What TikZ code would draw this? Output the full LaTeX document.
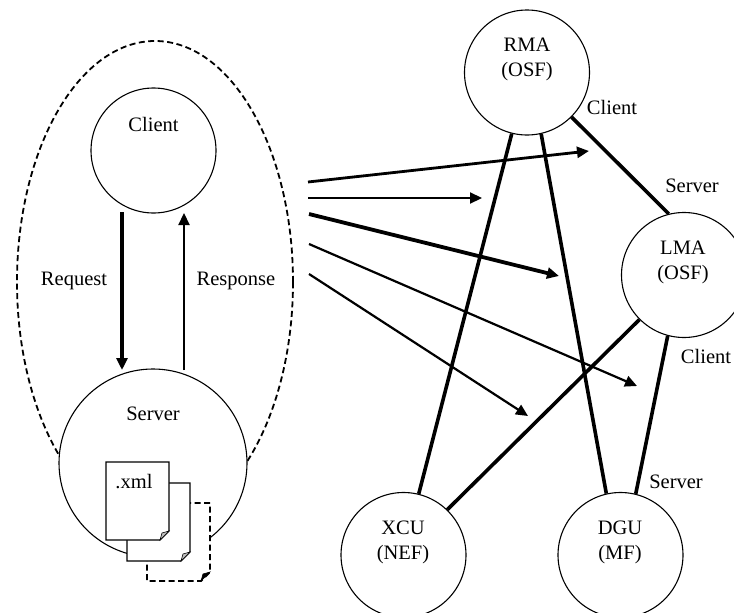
\documentclass[tikz,border=0pt]{standalone}
\usepackage{fontspec}
\setmainfont{Liberation Serif}
\usetikzlibrary{arrows.meta}
\usetikzlibrary{shapes.geometric}
\newcommand{\sheet}[4]{
  \draw[#3, fill=white] (#1,#2) -- ++(63,0) -- ++(0,69) -- ++(-9,9) -- ++(-54,0) -- cycle;
  \draw[line width=0.6pt, fill=#4] (#1+63,#2+69) -- ++(-9,9) -- ++(2,-7) -- cycle;
}
\tikzset{
  every node/.style={
    inner sep=0pt,
    font=\fontsize{20.5}{25}\selectfont
  },
  unit/.style={circle, draw, fill=white, line width=1.1pt, minimum size=125pt},
  tag/.style={align=center},
  link/.style={line width=3.6pt},
  flow/.style={-{Triangle[length=12pt,width=11pt]}},
  trace/.style={line width=1.8pt, dash pattern=on 6pt off 3.5pt}
}
\begin{document}
\begin{tikzpicture}[x=1pt, y=-1pt]
          \useasboundingbox (0,0) rectangle (734,613);
          \node[ellipse, draw, trace, minimum width=276pt, minimum height=482pt] (Group) at (155,282) {};
          \node[unit] (Client) at (153.5,150.5) {};
          \node[unit, minimum size=188pt] (Server) at (153,463) {};
          \node[unit] (RMA) at (527,72.5) {};
          \node[unit] (LMA) at (684,275) {};
          \node[unit] (XCU) at (403.5,555) {};
          \node[unit] (DGU) at (620.5,555) {};
          \node[tag] (ClientText) at (153.5,124) {Client};
          \node[tag] (ServerText) at (153,414) {Server};
          \node[tag] (RMAText) at (527,59) {RMA\\(OSF)};
          \node[tag] (LMAText) at (683,262) {LMA\\(OSF)};
          \node[tag] (XCUText) at (403,542) {XCU\\(NEF)};
          \node[tag] (DGUText) at (620,542) {DGU\\(MF)};
          \node[tag] (Request) at (74,281) {Request};
          \node[tag] (Response) at (236,281) {Response};
          \node[tag] (RMARole) at (612,107) {Client};
          \node[tag] (LMAServer) at (692,186) {Server};
          \node[tag] (LMAClient) at (706,356) {Client};
          \node[tag] (DGURole) at (676,482) {Server};
          % documents
          \sheet{147}{503}{trace}{black}
          \sheet{127}{483}{line width=1.1pt}{gray!50}
          \sheet{106}{462}{line width=1.1pt}{gray!50}
          \node[tag] (Xml) at (134,482) {.xml};
          % request and response
          \coordinate (ReqStart) at (122,212);
          \coordinate (ReqEnd) at (122,370);
          \coordinate (RespStart) at (184,370);
          \coordinate (RespEnd) at (184,213);
          \draw[flow, line width=3.2pt] (ReqStart) to (ReqEnd);
          \draw[flow, line width=2.2pt] (RespStart) to (RespEnd);
          % links between units
          \draw[link] (RMA.256.5) to (XCU.76.6);
          \draw[link] (RMA.283.2) to (DGU.103.7);
          \draw[link] (RMA.-45) to (LMA.104);
          \draw[link] (LMA.225) to (XCU.46);
          \draw[link] (LMA.255) to (DGU.76);
          % messages
          \coordinate (MsgA) at (308,182);
          \coordinate (MsgB) at (308,198);
          \coordinate (MsgC) at (309,214);
          \coordinate (MsgD) at (309,244);
          \coordinate (MsgE) at (309,274);
          \coordinate (EndA) at (589,151);
          \coordinate (EndB) at (482,198);
          \coordinate (EndC) at (559,276);
          \coordinate (EndD) at (637,386);
          \coordinate (EndE) at (528,416);
          \draw[flow, line width=2.8pt] (MsgA) to (EndA);
          \draw[flow, line width=2.2pt] (MsgB) to (EndB);
          \draw[flow, line width=3.8pt] (MsgC) to (EndC);
          \draw[flow, line width=2.2pt] (MsgD) to (EndD);
          \draw[flow, line width=2.2pt] (MsgE) to (EndE);
        \end{tikzpicture}
\end{document}
